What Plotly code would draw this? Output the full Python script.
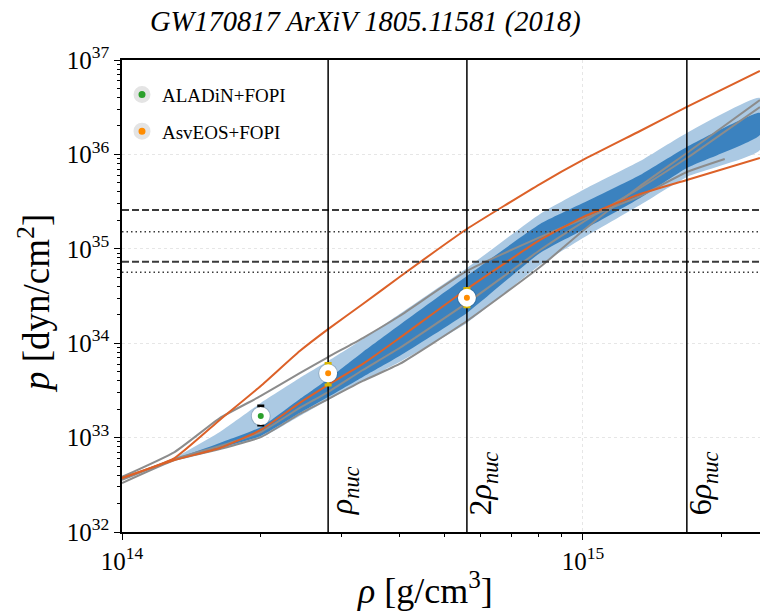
import math
import plotly.graph_objects as go

# ---------------- data ----------------
# density grid [g/cm^3]
rho_grid = [1.0e14, 1.3e14, 1.63e14, 2.0e14, 2.43e14, 2.8e14, 3.33e14, 4.0e14,
            5.6e14, 8.07e14, 1.0e15, 1.33e15, 1.68e15, 2.42e15]

# GW170817 posterior bands on pressure [dyn/cm^2]
band_rho = rho_grid[1:]
light_hi = [6.08e32, 1.146e33, 2.33e33, 4.28e33, 6.47e33, 1.107e34, 2.04e34,
            6.27e34, 2.34e35, 4.20e35, 8.51e35, 1.69e36, 3.96e36]
light_lo = [5.79e32, 7.57e32, 9.90e32, 1.69e33, 2.50e33, 3.98e33, 6.32e33,
            1.64e34, 6.73e34, 1.30e35, 2.91e35, 5.77e35, 1.11e36]
dark_hi = [5.93e32, 8.77e32, 1.29e33, 2.56e33, 4.18e33, 8.07e33, 1.56e34,
           5.15e34, 1.83e35, 3.05e35, 6.05e35, 1.20e36, 2.75e36]
dark_lo = [5.79e32, 7.76e32, 1.04e33, 1.82e33, 2.69e33, 4.39e33, 7.31e33,
           2.09e34, 9.03e34, 1.58e35, 3.45e35, 7.18e35, 1.61e36]

# model equations of state
p_orange_stiff = [3.73e32, 6.08e32, 1.54e33, 3.52e33, 8.26e33, 1.41e34, 2.60e34,
                  5.03e34, 1.62e35, 4.85e35, 8.73e35, 1.77e36, 3.18e36, 7.65e36]
p_orange_soft = [3.73e32, 5.79e32, 7.76e32, 1.205e33, 2.33e33, 3.61e33, 6.03e33,
                 1.135e34, 3.75e34, 1.24e35, 2.17e35, 3.81e35, 5.36e35, 9.16e35]

rho_grey1 = rho_grid[:-1] + [2.03e15]
p_grey1 = [3.83e32, 7.03e32, 1.61e33, 2.76e33, 4.83e33, 7.14e33, 1.135e34,
           1.94e34, 5.82e34, 1.33e35, 2.07e35, 3.62e35, 6.51e35, 8.94e35]
p_grey2 = [3.30e32, 5.79e32, 7.57e32, 1.01e33, 1.78e33, 2.56e33, 3.98e33,
           6.03e33, 1.72e34, 6.41e34, 1.55e35, 4.62e35, 1.035e36, 3.77e36]
p_grey3 = [3.56e32, 5.93e32, 8.15e32, 1.146e33, 2.06e33, 3.04e33, 5.20e33,
           8.89e33, 2.67e34, 9.70e34, 1.92e35, 4.41e35, 9.16e35, 3.18e36]

# heavy-ion collision constraints
aladin_rho = [2.0e14]
aladin_p = [1.69e33]
aladin_hi = [2.16e33]
aladin_lo = [1.36e33]

asv_rho = [2.8e14, 5.6e14]
asv_p = [4.80e33, 3.03e34]
asv_hi = [6.1e33, 3.8e34]
asv_lo = [3.6e33, 2.44e34]

# reference pressures
p_dashed = [2.58e35, 7.3e34]
p_dotted = [1.52e35, 5.64e34]

# nuclear saturation density and multiples
rho_nuc = 2.8e14
nuc_mult = [1, 2, 6]
nuc_labels = ["<i>ρ</i><sub><i>nuc</i></sub>",
              "2<i>ρ</i><sub><i>nuc</i></sub>",
              "6<i>ρ</i><sub><i>nuc</i></sub>"]

x_range = [14.0, 15.384]
y_range = [32.0, 37.0]
y_lo, y_hi = 10 ** y_range[0], 10 ** y_range[1]
x_lo, x_hi = 10 ** x_range[0], 10 ** x_range[1]

x_major = [1e14, 1e15]
x_major_text = ["10<sup>14</sup>", "10<sup>15</sup>"]
y_major = [10.0 ** e for e in range(32, 38)]
y_major_text = ["10<sup>%d</sup>" % e for e in range(32, 38)]
x_minor = [m * 10.0 ** e for e in (14, 15) for m in range(2, 10)]
y_minor = [m * 10.0 ** e for e in range(32, 37) for m in range(2, 10)]

# ---------------- styles ----------------
FONT = "Liberation Serif"
ORANGE = "#dc6128"
GREY = "#8c8c8c"
LIGHT_BLUE = "#abc9e3"
DARK_BLUE = "#3b82bf"
SMOOTH = 0.45

fig = go.Figure()

# bands
fig.add_trace(go.Scatter(
    x=band_rho + band_rho[::-1], y=light_hi + light_lo[::-1],
    fill="toself", fillcolor=LIGHT_BLUE, mode="lines",
    line=dict(width=0, shape="spline", smoothing=SMOOTH), showlegend=False, hoverinfo="skip"))
fig.add_trace(go.Scatter(
    x=band_rho + band_rho[::-1], y=dark_hi + dark_lo[::-1],
    fill="toself", fillcolor=DARK_BLUE, mode="lines",
    line=dict(width=0, shape="spline", smoothing=SMOOTH), showlegend=False, hoverinfo="skip"))

# EOS curves
for xs, ys in [(rho_grid, p_grey3), (rho_grid, p_grey2), (rho_grey1, p_grey1)]:
    fig.add_trace(go.Scatter(x=xs, y=ys, mode="lines",
                             line=dict(color=GREY, width=2, shape="spline", smoothing=SMOOTH),
                             showlegend=False, hoverinfo="skip"))
for ys in [p_orange_soft, p_orange_stiff]:
    fig.add_trace(go.Scatter(x=rho_grid, y=ys, mode="lines",
                             line=dict(color=ORANGE, width=2, shape="spline", smoothing=SMOOTH),
                             showlegend=False, hoverinfo="skip"))

# horizontal reference pressures
for p in p_dashed:
    fig.add_trace(go.Scatter(x=[x_lo, x_hi], y=[p, p], mode="lines",
                             line=dict(color="#3a3a3a", width=2, dash="7px,3px"),
                             showlegend=False, hoverinfo="skip"))
for p in p_dotted:
    fig.add_trace(go.Scatter(x=[x_lo, x_hi], y=[p, p], mode="lines",
                             line=dict(color="#3a3a3a", width=1.5, dash="1.5px,3px"),
                             showlegend=False, hoverinfo="skip"))

# vertical density markers
for m in nuc_mult:
    fig.add_trace(go.Scatter(x=[m * rho_nuc, m * rho_nuc], y=[y_lo, y_hi], mode="lines",
                             line=dict(color="black", width=1.5),
                             showlegend=False, hoverinfo="skip"))

# soft halo behind the data points
fig.add_trace(go.Scatter(x=aladin_rho + asv_rho, y=aladin_p + asv_p, mode="markers",
                         marker=dict(size=20, color="rgba(0,0,0,0.13)", line=dict(width=0)),
                         showlegend=False, hoverinfo="skip"))


def point_trace(xs, ys, hi, lo, dot_color, bar_color):
    return go.Scatter(
        x=xs, y=ys, mode="markers", showlegend=False,
        marker=dict(size=12, color=dot_color, line=dict(color="white", width=6)),
        error_y=dict(type="data", symmetric=False,
                     array=[h - v for h, v in zip(hi, ys)],
                     arrayminus=[v - l for l, v in zip(lo, ys)],
                     color=bar_color, thickness=3, width=3.5),
    )


def legend_key(name, dot_color, group):
    # legend-only entry: no data, just the key symbol
    return go.Scatter(
        x=[None], y=[None], mode="markers", name=name, legendgroup=group,
        marker=dict(size=12, color=dot_color, line=dict(color="#e4e4e4", width=6)),
    )


fig.add_trace(point_trace(aladin_rho, aladin_p, aladin_hi, aladin_lo, "#2ca02c", "black"))
fig.add_trace(point_trace(asv_rho, asv_p, asv_hi, asv_lo, "#ff8c00", "#d9b600"))
fig.add_trace(legend_key("ALADiN+FOPI", "#2ca02c", "a"))
fig.add_trace(legend_key("AsvEOS+FOPI", "#ff8c00", "b"))

# ---------------- annotations ----------------
annotations = [
    dict(text="<i>GW170817 ArXiV 1805.11581 (2018)</i>", xref="paper", yref="paper",
         x=0.381, y=1.0805, xanchor="center", yanchor="middle", showarrow=False,
         font=dict(family=FONT, size=28.5, color="black")),
    dict(text="<i>p</i> [dyn/cm<sup>2</sup>]", xref="paper", yref="paper",
         x=-0.138, y=0.485, xanchor="center", yanchor="middle", textangle=-90,
         showarrow=False, font=dict(family=FONT, size=37, color="black")),
    dict(text="<i>ρ</i> [g/cm<sup>3</sup>]", xref="paper", yref="paper",
         x=0.475, y=-0.12, xanchor="center", yanchor="middle",
         showarrow=False, font=dict(family=FONT, size=36, color="black")),
]
for m, lab in zip(nuc_mult, nuc_labels):
    annotations.append(dict(text=lab, xref="x", yref="paper",
                            x=math.log10(m * rho_nuc), y=0,
                            xanchor="left", yanchor="bottom", xshift=-7, yshift=15,
                            textangle=-90, showarrow=False,
                            font=dict(family=FONT, size=32, color="black")))

axis_common = dict(
    type="log", showline=True, linecolor="black", linewidth=1.5,
    ticks="outside", ticklen=6, tickwidth=1.2, tickcolor="black",
    showgrid=True, gridcolor="#e6e6e6", griddash="dot", gridwidth=1,
    tickfont=dict(family=FONT, size=25, color="black"), zeroline=False,
)

fig.update_layout(
    width=760, height=614,
    margin=dict(l=122, r=0, t=60, b=82),
    paper_bgcolor="white", plot_bgcolor="white",
    showlegend=True,
    legend=dict(x=0.0, y=0.967, xanchor="left", yanchor="top",
                bgcolor="rgba(255,255,255,0)", traceorder="grouped", tracegroupgap=9,
                font=dict(family=FONT, size=19, color="black")),
    xaxis=dict(axis_common, range=x_range, tickvals=x_major, ticktext=x_major_text,
               mirror=True,
               minor=dict(tickvals=x_minor, ticks="outside", ticklen=3.5,
                          tickcolor="black", showgrid=False)),
    yaxis=dict(axis_common, range=y_range, tickvals=y_major, ticktext=y_major_text,
               minor=dict(tickvals=y_minor, ticks="outside", ticklen=3.5,
                          tickcolor="black", showgrid=False)),
    annotations=annotations,
)

fig.write_html("out.html")
